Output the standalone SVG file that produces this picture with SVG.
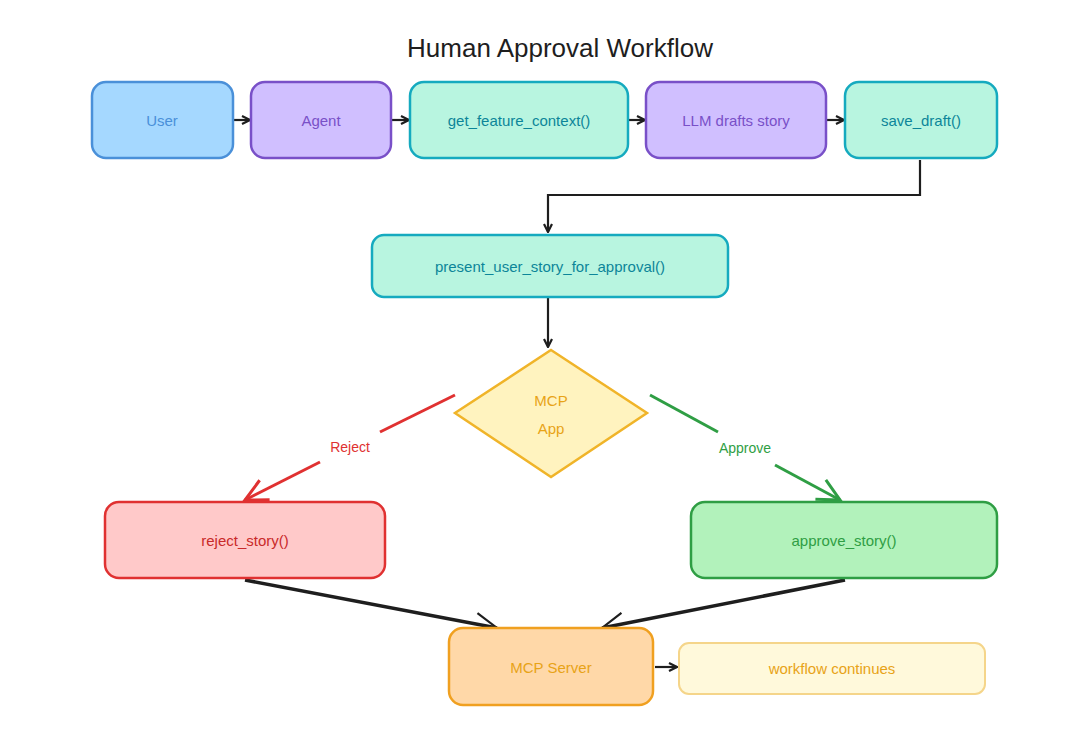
<svg xmlns="http://www.w3.org/2000/svg" width="1080" height="752" viewBox="0 0 1080 752">
<style>
text{font-family:"Liberation Sans",Arial,sans-serif;font-size:15px;text-anchor:middle;dominant-baseline:central}
.n{stroke-width:2.5}
.c{fill:none;stroke:#1e1e1e;stroke-width:2.2}
.t{stroke-width:3.5}
</style>
<defs>
<marker id="a" markerWidth="10" markerHeight="10" refX="9" refY="5" orient="auto" markerUnits="userSpaceOnUse"><path d="M1,1 L9,5 L1,9" fill="none" stroke="#1e1e1e" stroke-width="2.2"/></marker>
<marker id="ar" markerWidth="30" markerHeight="30" refX="26" refY="15" orient="auto" markerUnits="userSpaceOnUse"><path d="M4,4 L26,15 L4,26" fill="none" stroke="#e03131" stroke-width="3"/></marker>
<marker id="ag" markerWidth="30" markerHeight="30" refX="26" refY="15" orient="auto" markerUnits="userSpaceOnUse"><path d="M4,4 L26,15 L4,26" fill="none" stroke="#2f9e44" stroke-width="3"/></marker>
<marker id="ab" markerWidth="30" markerHeight="30" refX="26" refY="15" orient="auto" markerUnits="userSpaceOnUse"><path d="M4,4 L26,15 L4,26" fill="none" stroke="#1e1e1e" stroke-width="2.2"/></marker>
</defs>
<rect width="1080" height="752" fill="#fff"/>
<text x="560" y="48" style="font-size:26px" fill="#1e1e1e">Human Approval Workflow</text>
<g id="connectors">
<line class="c" x1="233" y1="120" x2="250" y2="120" marker-end="url(#a)"/>
<line class="c" x1="391" y1="120" x2="409" y2="120" marker-end="url(#a)"/>
<line class="c" x1="628" y1="120" x2="645" y2="120" marker-end="url(#a)"/>
<line class="c" x1="826" y1="120" x2="844" y2="120" marker-end="url(#a)"/>
<path class="c" d="M920,160 V195 H548 V232" marker-end="url(#a)"/>
<line class="c" x1="548" y1="297" x2="548" y2="347" marker-end="url(#a)"/>
<line x1="455" y1="395" x2="380" y2="432" stroke="#e03131" stroke-width="3"/>
<line x1="320" y1="462" x2="245" y2="500" stroke="#e03131" stroke-width="3" marker-end="url(#ar)"/>
<text x="350" y="447" fill="#e03131" style="font-size:14px">Reject</text>
<line x1="650" y1="395" x2="718" y2="432" stroke="#2f9e44" stroke-width="3"/>
<line x1="775" y1="465" x2="840" y2="500" stroke="#2f9e44" stroke-width="3" marker-end="url(#ag)"/>
<text x="745" y="448" fill="#2f9e44" style="font-size:14px">Approve</text>
<line class="c t" x1="245" y1="580" x2="497" y2="628" marker-end="url(#ab)"/>
<line class="c t" x1="845" y1="580" x2="602" y2="628" marker-end="url(#ab)"/>
<line class="c" x1="655" y1="667" x2="677" y2="667" marker-end="url(#a)"/>
</g>
<g id="user"><rect class="n" x="92" y="82" width="141" height="76" rx="14" fill="#a5d8ff" stroke="#4a90d9"/><text x="162" y="120" fill="#4a90d9">User</text></g>
<g id="agent"><rect class="n" x="251" y="82" width="140" height="76" rx="14" fill="#d0bfff" stroke="#7950c8"/><text x="321" y="120" fill="#7950c8">Agent</text></g>
<g id="gfc"><rect class="n" x="410" y="82" width="218" height="76" rx="14" fill="#b8f5e0" stroke="#15aabf"/><text x="519" y="120" fill="#0c8599">get_feature_context()</text></g>
<g id="llm"><rect class="n" x="646" y="82" width="180" height="76" rx="14" fill="#d0bfff" stroke="#7950c8"/><text x="736" y="120" fill="#7950c8">LLM drafts story</text></g>
<g id="save"><rect class="n" x="845" y="82" width="152" height="76" rx="14" fill="#b8f5e0" stroke="#15aabf"/><text x="921" y="120" fill="#0c8599">save_draft()</text></g>
<g id="present"><rect class="n" x="372" y="235" width="356" height="62" rx="12" fill="#b8f5e0" stroke="#15aabf"/><text x="550" y="266" fill="#0c8599">present_user_story_for_approval()</text></g>
<g id="app"><polygon class="n" points="551,350 647,413 551,477 455,413" fill="#fff3bf" stroke="#f0b429"/><text x="551" y="400" fill="#e8a317">MCP</text><text x="551" y="428" fill="#e8a317">App</text></g>
<g id="reject"><rect class="n" x="105" y="502" width="280" height="76" rx="14" fill="#ffc9c9" stroke="#e03131"/><text x="245" y="540" fill="#c92a2a">reject_story()</text></g>
<g id="approve"><rect class="n" x="691" y="502" width="306" height="76" rx="14" fill="#b2f2bb" stroke="#2f9e44"/><text x="844" y="540" fill="#2f9e44">approve_story()</text></g>
<g id="server"><rect class="n" x="449" y="628" width="204" height="77" rx="14" fill="#ffd8a8" stroke="#f0a020"/><text x="551" y="667" fill="#e8a317">MCP Server</text></g>
<g id="continues"><rect x="679" y="643" width="306" height="51" rx="10" fill="#fff9db" stroke="#f5d58a" stroke-width="2"/><text x="832" y="668" fill="#e8a317">workflow continues</text></g>
</svg>
